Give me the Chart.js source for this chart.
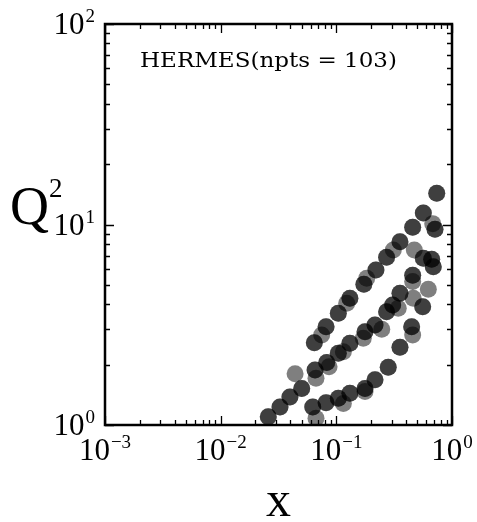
<!DOCTYPE html>
<html>
<head>
<meta charset="utf-8">
<script src="https://cdn.jsdelivr.net/npm/chart.js@4.4.0/dist/chart.umd.min.js"></script>
<style>
  body { margin: 0; background: #fff; }
  #wrap { width: 477px; height: 522px; }
</style>
</head>
<body>
<div id="wrap"><canvas id="c" width="477" height="522"></canvas></div>
<script>
// points drawn once (look light grey)
const xSingle = [0.681, 0.311, 0.472, 0.183, 0.457, 0.624, 0.123, 0.462, 0.343, 0.0747,
                 0.247, 0.171, 0.115, 0.0865, 0.0667, 0.0440, 0.457, 0.177, 0.115, 0.0667];
const q2Single = [10.1, 7.46, 7.46, 5.39, 5.19, 4.75, 4.05, 4.29, 3.82, 2.81,
                  3.00, 2.71, 2.32, 1.95, 1.71, 1.80, 2.81, 1.47, 1.28, 1.08];

// points that sit on top of each other (two measurements, darker)
const xDouble = [0.738, 0.565, 0.713, 0.457, 0.355, 0.272, 0.565, 0.667, 0.689, 0.220,
                 0.173, 0.457, 0.131, 0.104, 0.355, 0.558, 0.307, 0.272, 0.0815, 0.0645,
                 0.216, 0.177, 0.131, 0.104, 0.0826, 0.0655, 0.0502, 0.0397, 0.0326, 0.0258,
                 0.448, 0.355, 0.281, 0.216, 0.177, 0.131, 0.104, 0.0815, 0.0625];
const q2Double = [14.3, 11.4, 9.46, 9.68, 8.21, 6.86, 6.78, 6.71, 6.16, 5.93,
                  5.03, 5.58, 4.29, 3.61, 4.54, 3.89, 3.97, 3.67, 3.09, 2.57,
                  3.15, 2.92, 2.56, 2.28, 2.05, 1.88, 1.52, 1.38, 1.23, 1.10,
                  3.09, 2.44, 1.94, 1.68, 1.52, 1.44, 1.36, 1.29, 1.23];

const xMajor = [0.001, 0.01, 0.1, 1];
const xExp = ['\u22123', '\u22122', '\u22121', '0'];
const yMajor = [1, 10, 100];
const yExp = ['0', '1', '2'];
const label = 'HERMES(npts = 103)';

const SERIF = '"Liberation Serif", "DejaVu Serif", serif';

function toPts(xs, ys) { return xs.map((x, i) => ({ x: x, y: ys[i] })); }

// 10^n label, anchor: 'center' (x axis) or 'right' (y axis)
function drawPow(ctx, exp, x, baseY, anchor) {
  ctx.font = '31px ' + SERIF;
  const wb = ctx.measureText('10').width;
  ctx.font = '19px ' + SERIF;
  const we = ctx.measureText(exp).width;
  const total = wb + we + 1;
  let left = anchor === 'center' ? x - total / 2 : x - total;
  ctx.fillStyle = '#000';
  ctx.textAlign = 'left';
  ctx.textBaseline = 'alphabetic';
  ctx.font = '31px ' + SERIF;
  ctx.fillText('10', left, baseY);
  ctx.font = '19px ' + SERIF;
  ctx.fillText(exp, left + wb + 1, baseY - 12);
}

const frame = {
  id: 'frame',
  afterDraw(chart) {
    const ctx = chart.ctx;
    const a = chart.chartArea;
    const xs = chart.scales.x, ys = chart.scales.y;
    ctx.save();
    ctx.strokeStyle = '#000';
    ctx.lineWidth = 1.3;
    ctx.beginPath();
    // inward ticks on all four sides
    for (let d = -3; d < 0; d++) {
      for (let k = 1; k <= 10; k++) {
        const v = k * Math.pow(10, d);
        if (k === 10 && d !== -1) continue;
        const px = Math.round(xs.getPixelForValue(v)) + 0.5;
        const len = (k === 1 || k === 10) ? 9 : 5;
        ctx.moveTo(px, a.bottom); ctx.lineTo(px, a.bottom - len);
        ctx.moveTo(px, a.top); ctx.lineTo(px, a.top + len);
      }
    }
    for (let d = 0; d < 2; d++) {
      for (let k = 1; k <= 10; k++) {
        const v = k * Math.pow(10, d);
        if (k === 10 && d !== 1) continue;
        const py = Math.round(ys.getPixelForValue(v)) + 0.5;
        const len = (k === 1 || k === 10) ? 9 : 5;
        ctx.moveTo(a.left, py); ctx.lineTo(a.left + len, py);
        ctx.moveTo(a.right, py); ctx.lineTo(a.right - len, py);
      }
    }
    ctx.stroke();
    ctx.lineWidth = 2.5;
    ctx.strokeRect(a.left, a.top, a.right - a.left, a.bottom - a.top);

    // tick labels
    xMajor.forEach((v, i) => drawPow(ctx, xExp[i], xs.getPixelForValue(v), a.bottom + 35, 'center'));
    yMajor.forEach((v, i) => drawPow(ctx, yExp[i], a.left - 10, ys.getPixelForValue(v) + 10, 'right'));

    // axis titles
    ctx.fillStyle = '#000';
    ctx.textAlign = 'left';
    ctx.font = '54px ' + SERIF;
    ctx.fillText('Q', 10, 224);
    ctx.font = '27px ' + SERIF;
    ctx.fillText('2', 49, 197);
    ctx.font = '50px ' + SERIF;
    ctx.textAlign = 'center';
    ctx.fillText('x', (a.left + a.right) / 2, 516);

    // dataset label, fitted to the reference width
    ctx.font = '21px "DejaVu Serif", serif';
    const w = ctx.measureText(label).width;
    const target = 257;
    ctx.translate(140, 67);
    ctx.scale(target / w, 1);
    ctx.textAlign = 'left';
    ctx.fillText(label, 0, 0);
    ctx.restore();
  }
};

new Chart(document.getElementById('c').getContext('2d'), {
  type: 'scatter',
  data: {
    datasets: [
      {
        data: toPts(xSingle, q2Single),
        backgroundColor: 'rgba(0,0,0,0.5)',
        borderWidth: 0,
        pointRadius: 8.5,
        pointHoverRadius: 8.5
      },
      {
        data: toPts(xDouble, q2Double),
        backgroundColor: 'rgba(0,0,0,0.5)',
        borderWidth: 0,
        pointRadius: 8.5,
        pointHoverRadius: 8.5
      },
      {
        data: toPts(xDouble, q2Double),
        backgroundColor: 'rgba(0,0,0,0.5)',
        borderWidth: 0,
        pointRadius: 8.5,
        pointHoverRadius: 8.5
      }
    ]
  },
  options: {
    responsive: false,
    animation: false,
    events: [],
    layout: { padding: { left: 105, top: 24, right: 25, bottom: 97 } },
    plugins: { legend: { display: false }, tooltip: { enabled: false } },
    scales: {
      x: { type: 'logarithmic', min: 0.001, max: 1, display: false },
      y: { type: 'logarithmic', min: 1, max: 100, display: false }
    }
  },
  plugins: [frame]
});
</script>
</body>
</html>
